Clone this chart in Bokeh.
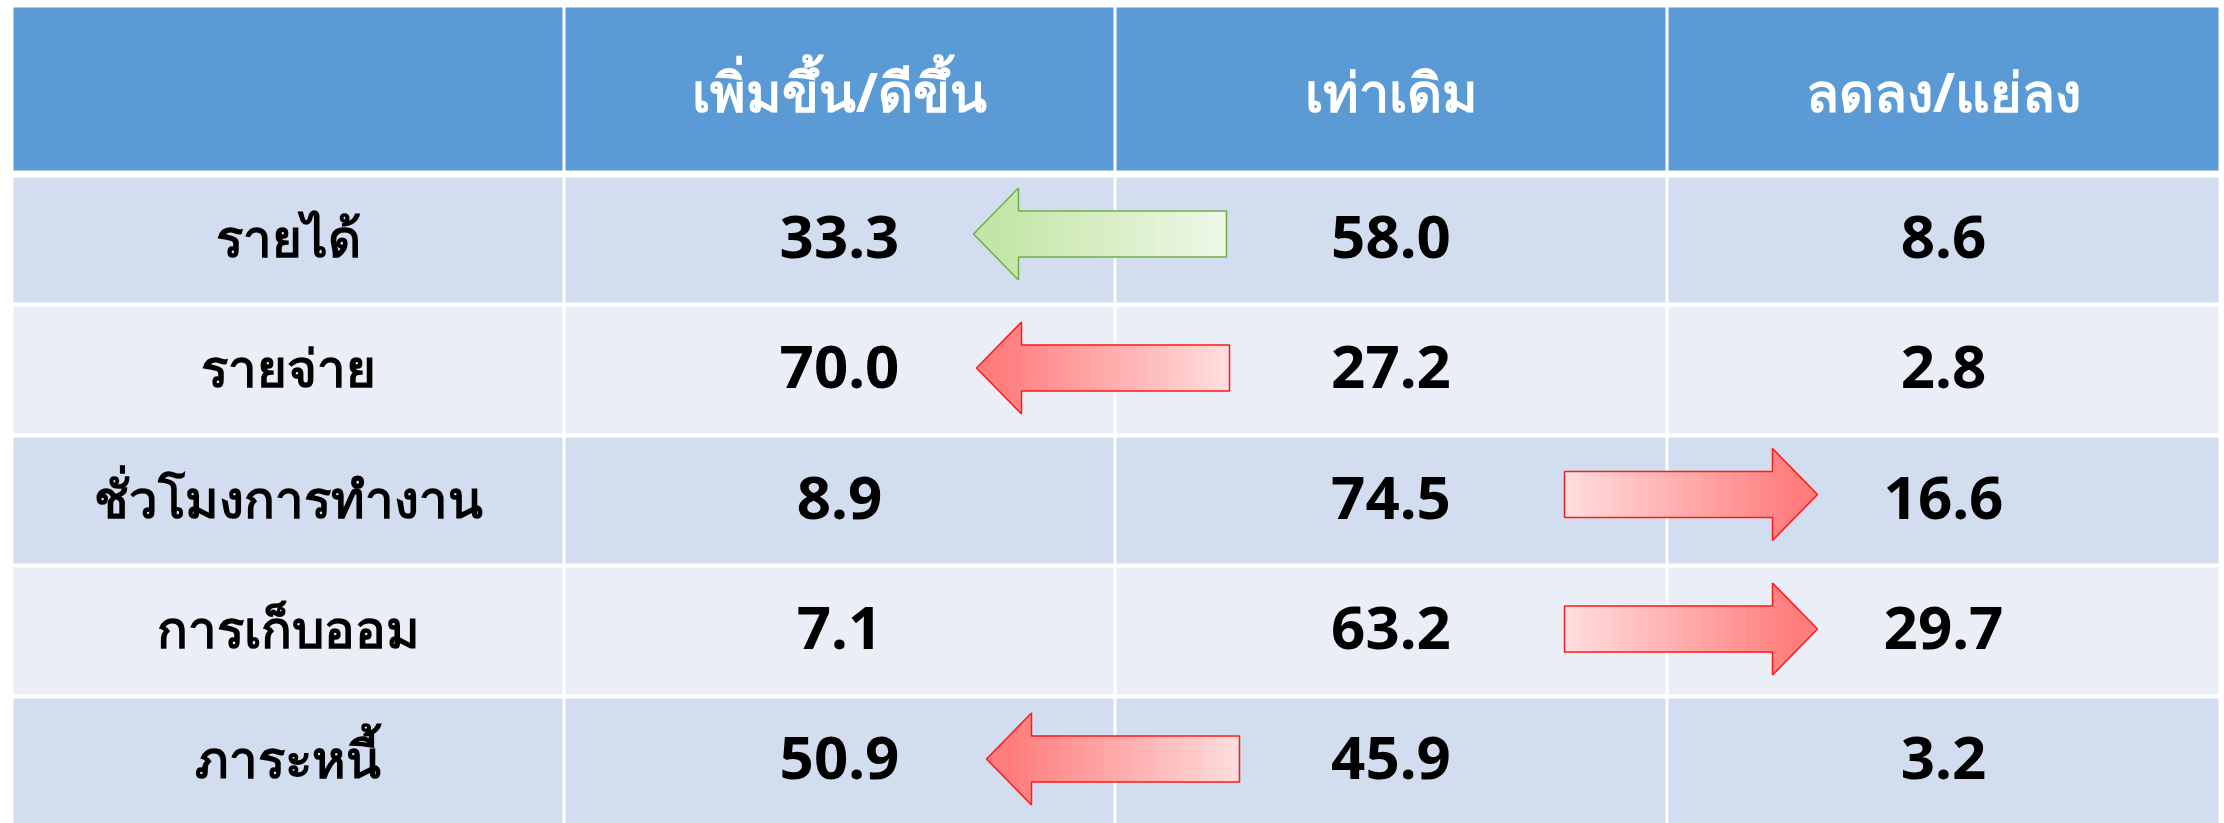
from bokeh.plotting import figure
from bokeh.models import Range1d
from bokeh.embed import file_html
from bokeh.resources import INLINE
from bokeh.core.properties import value

# ---- data ----
headers = ["", "เพิ่มขึ้น/ดีขึ้น", "เท่าเดิม", "ลดลง/แย่ลง"]
categories = ["รายได้", "รายจ่าย", "ชั่วโมงการทำงาน", "การเก็บออม", "ภาระหนี้"]
increase = [33.3, 70.0, 8.9, 7.1, 50.9]
same = [58.0, 27.2, 74.5, 63.2, 45.9]
decrease = [8.6, 2.8, 16.6, 29.7, 3.2]
arrow_dir = ["left", "left", "right", "right", "left"]
arrow_kind = ["good", "bad", "bad", "bad", "bad"]

# ---- layout (page pixels) ----
col_edges = [(13, 562), (565, 1113), (1116, 1665), (1668, 2218)]
head_edge = (7, 170)
row_edges = [(177, 302), (306, 433), (437, 563), (567, 694), (698, 823)]
HEADER_BG = "#5B9BD5"
ROW_BG = ["#D2DEEF", "#EAEFF7"]
FONT = "Noto Sans"

W, H = 2224, 823
p = figure(width=W, height=H, output_backend="svg", toolbar_location=None,
           x_range=Range1d(0, W), y_range=Range1d(H, 0), min_border=0)
p.axis.visible = False
p.grid.visible = False
p.outline_line_color = None
p.background_fill_color = "white"
p.border_fill_color = "white"

# header cells
p.quad(left=[c[0] for c in col_edges], right=[c[1] for c in col_edges],
       top=[head_edge[0]] * 4, bottom=[head_edge[1]] * 4,
       fill_color=HEADER_BG, line_color=None)
# body cells
L, R, T, B, C = [], [], [], [], []
for i, (t, b) in enumerate(row_edges):
    for (l, r) in col_edges:
        L.append(l); R.append(r); T.append(t); B.append(b + 10 if i == 4 else b)
        C.append(ROW_BG[i % 2])
p.quad(left=L, right=R, top=T, bottom=B, fill_color=C, line_color=None)

cx = [(l + r) / 2 for l, r in col_edges]
hy = (head_edge[0] + head_edge[1]) / 2
p.text(x=cx[1:], y=[hy + 2] * 3, text=headers[1:], text_color="white",
       text_font=value(FONT), text_font_size="54px", text_font_style="bold",
       text_align="center", text_baseline="middle")

ry = [(t + b) / 2 - 3 for t, b in row_edges]
p.text(x=[cx[0]] * 5, y=ry, text=categories, text_color="black",
       text_font=value(FONT), text_font_size="51px", text_font_style="bold",
       text_align="center", text_baseline="middle")
for k, series in enumerate([increase, same, decrease]):
    p.text(x=[cx[k + 1]] * 5, y=ry, text=[f"{v:.1f}" for v in series],
           text_color="black", text_font=value(FONT), text_font_size="60px",
           text_font_style="bold", text_align="center", text_baseline="middle")

# ---- gradient arrows ----
def lerp(a, b, t):
    return a + (b - a) * t

def hex2rgb(h):
    h = h.lstrip("#")
    return tuple(int(h[i:i + 2], 16) for i in (0, 2, 4))

def rgb2hex(c):
    return "#%02x%02x%02x" % tuple(int(round(v)) for v in c)

STYLES = {
    "good": dict(head="#C3E6A6", tail="#EFF8E8", line="#70AD47"),
    "bad": dict(head="#FF7C7C", tail="#FFDEDE", line="#FF1A1A"),
}
ALEN, HLEN, SHAFT, HEAD = 253, 45, 46, 92

def draw_arrow(tip_x, cy, direction, kind):
    st = STYLES[kind]
    s = -1 if direction == "left" else 1  # direction from tail to tip
    tail_x = tip_x - s * ALEN
    base_x = tip_x - s * HLEN
    ch, ct = hex2rgb(st["head"]), hex2rgb(st["tail"])

    xs_all, ys_all, cols = [], [], []
    n_shaft, n_head = 40, 10
    segs = []
    for i in range(n_shaft):
        segs.append((lerp(tail_x, base_x, i / n_shaft), lerp(tail_x, base_x, (i + 1) / n_shaft), "s"))
    for i in range(n_head):
        segs.append((lerp(base_x, tip_x, i / n_head), lerp(base_x, tip_x, (i + 1) / n_head), "h"))
    for x0, x1, kind_s in segs:
        if kind_s == "s":
            h0 = h1 = SHAFT / 2
        else:
            h0 = HEAD / 2 * abs(tip_x - x0) / HLEN
            h1 = HEAD / 2 * abs(tip_x - x1) / HLEN
        t = abs((x0 + x1) / 2 - tail_x) / ALEN
        col = tuple(lerp(ct[j], ch[j], min(1, t * 1.1)) for j in range(3))
        xs_all.append([x0, x1, x1, x0])
        ys_all.append([cy - h0, cy - h1, cy + h1, cy + h0])
        cols.append(rgb2hex(col))
    p.patches(xs=xs_all, ys=ys_all, fill_color=cols, line_color=cols, line_width=0.6)
    ox = [tail_x, base_x, base_x, tip_x, base_x, base_x, tail_x]
    oy = [cy - SHAFT / 2, cy - SHAFT / 2, cy - HEAD / 2, cy, cy + HEAD / 2, cy + SHAFT / 2, cy + SHAFT / 2]
    p.patch(x=ox, y=oy, fill_color=None, line_color=st["line"], line_width=1.5)

for i, (d, k) in enumerate(zip(arrow_dir, arrow_kind)):
    t, b = row_edges[i]
    cy = (t + b) / 2 - 6 if i in (0, 2) else (t + b) / 2 - 2
    if d == "left":
        tip = col_edges[1][1] - 137 + (10 if i == 4 else 0) + (-3 if i == 0 else 0)
    else:
        tip = col_edges[2][1] + 152
    draw_arrow(tip, cy, d, k)

open("out.html", "w").write(file_html(p, INLINE))
